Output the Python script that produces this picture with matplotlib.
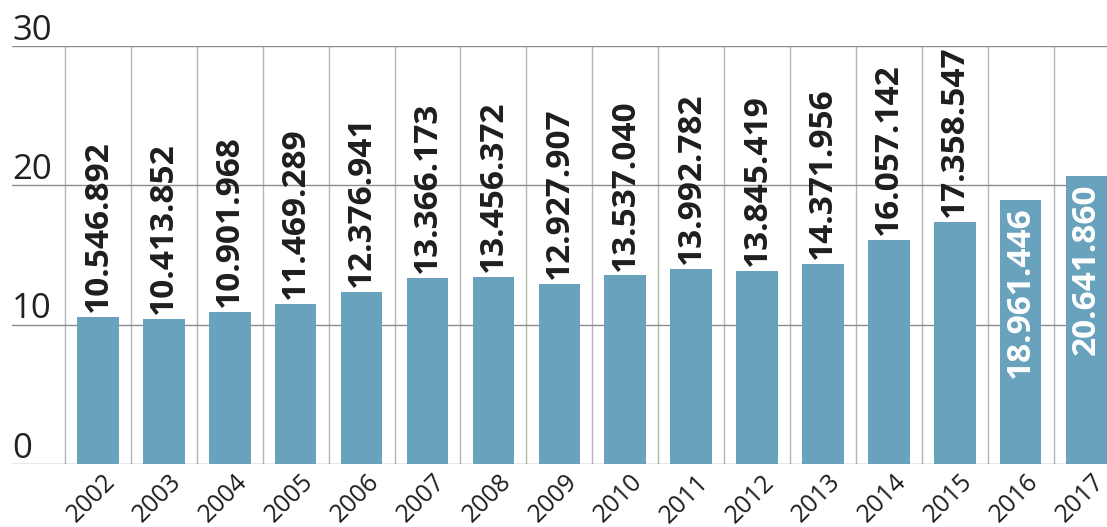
import matplotlib.pyplot as plt
import matplotlib.transforms as mtransforms
import numpy as np

years = ['2002', '2003', '2004', '2005', '2006', '2007', '2008', '2009',
         '2010', '2011', '2012', '2013', '2014', '2015', '2016', '2017']
values = [10546892, 10413852, 10901968, 11469289, 12376941, 13366173,
          13456372, 12927907, 13537040, 13992782, 13845419, 14371956,
          16057142, 17358547, 18961446, 20641860]
value_labels = ['10.546.892', '10.413.852', '10.901.968', '11.469.289',
                '12.376.941', '13.366.173', '13.456.372', '12.927.907',
                '13.537.040', '13.992.782', '13.845.419', '14.371.956',
                '16.057.142', '17.358.547', '18.961.446', '20.641.860']
inside = ['2016', '2017']  # labels drawn inside the bar
yticks = [0, 10, 20, 30]

plt.rcParams['font.family'] = ['Open Sans', 'DejaVu Sans']

fig = plt.figure(figsize=(11.07, 5.27), dpi=100)
# axes spans from x=12px to the right edge; y 0 at 464px, 30 at 46px
ax = fig.add_axes([12 / 1107, (527 - 464) / 527, 1 - 12 / 1107, (464 - 46) / 527])

x = np.arange(len(years))
heights = np.array(values) / 1e6
bar_col = '#68a2bd'

ax.bar(x, heights, width=0.63, color=bar_col, zorder=3)

ax.set_xlim(-1.305, 15.31)
ax.set_ylim(0, 30)

# horizontal grid lines
for t in yticks:
    ax.axhline(t, color='#8c8c8c', lw=1.0, zorder=2)
    ax.text(0.0, t + 0.45, str(t), transform=ax.get_yaxis_transform(),
            ha='left', va='baseline', fontsize=25, color='#222222')

# vertical separators between categories
for b in np.arange(-0.5, len(years), 1.0):
    ax.plot([b, b], [0, 30], color='#b5b5b5', lw=1.0, zorder=1)

for xi, h, lab, yr in zip(x, heights, value_labels, years):
    if yr in inside:
        ax.text(xi, h - 0.5, lab, rotation=90, ha='center', va='top',
                fontsize=24, fontweight='bold', color='white', zorder=4)
    else:
        ax.text(xi, h + 0.35, lab, rotation=90, ha='center', va='bottom',
                fontsize=24, fontweight='bold', color='#1e1e1e', zorder=4)

ax.set_xticks(x)
ax.set_xticklabels(years, rotation=45, ha='right', rotation_mode='anchor',
                   fontsize=18, color='#1e1e1e')
ax.tick_params(axis='x', length=0, pad=4)
# nudge year labels a bit to the right
shift = mtransforms.ScaledTranslation(5 / 100, 0, fig.dpi_scale_trans)
for lbl in ax.get_xticklabels():
    lbl.set_transform(lbl.get_transform() + shift)
ax.set_yticks([])
for s in ax.spines.values():
    s.set_visible(False)

fig.savefig('out.png', dpi=100)
